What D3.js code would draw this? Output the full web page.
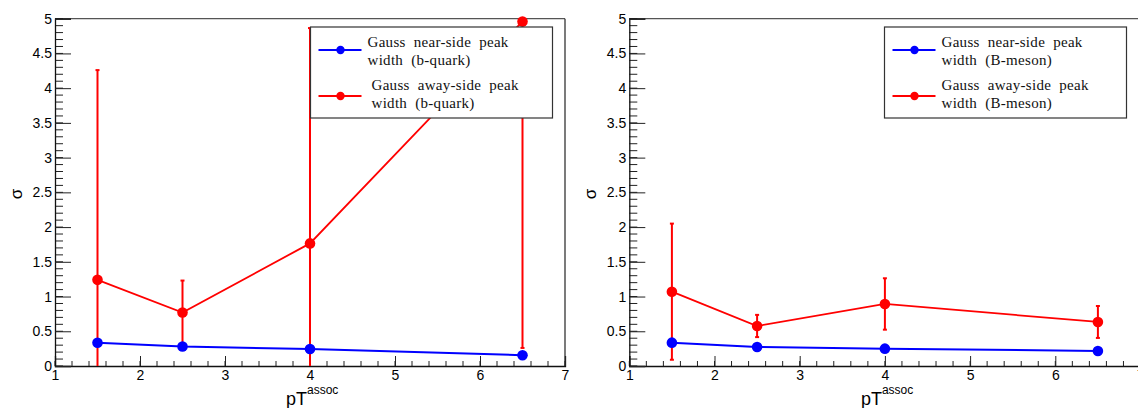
<!DOCTYPE html>
<html>
<head>
<meta charset="utf-8">
<script src="https://cdn.jsdelivr.net/npm/d3@7"></script>
<style>
  body { margin: 0; background: #fff; }
  svg { display: block; }
  .tick text { font-family: "Liberation Sans", Arial, sans-serif; font-size: 14px; fill: #000; }
  .leg text { font-family: "Liberation Serif", "DejaVu Serif", serif; font-size: 15px; fill: #111; word-spacing: 4px; letter-spacing: 0.3px; }
</style>
</head>
<body>
<div id="chart"></div>
<script>
// pT assoc bin centres
var pt = [1.5, 2.5, 4, 6.5];

// b-quark panel
var bqNear = [0.335, 0.28, 0.245, 0.155];
var bqAway = [1.24, 0.77, 1.765, 4.96];
var bqAwayErr = [3.02, 0.46, 3.1, 4.70];

// B-meson panel
var bmNear = [0.336, 0.274, 0.25, 0.216];
var bmAway = [1.07, 0.576, 0.893, 0.634];
var bmAwayErr = [0.98, 0.16, 0.37, 0.23];

var xTicks = [1, 2, 3, 4, 5, 6, 7];
var yTicks = [0, 0.5, 1, 1.5, 2, 2.5, 3, 3.5, 4, 4.5, 5];

var W = 1138, H = 408;

var svg = d3.select("#chart")
    .append("svg")
        .attr("width", W)
        .attr("height", H);

var panels = [
    {x0: 55, x1: 565, near: bqNear, away: bqAway, awayErr: bqAwayErr, tag: "(b-quark)",
     leg: {x: 310.5, y: 27, w: 242, h: 91, dx2: 4}, rightFrame: true},
    {x0: 629.3, x1: 1140.5, near: bmNear, away: bmAway, awayErr: bmAwayErr, tag: "(B-meson)",
     leg: {x: 884.5, y: 27, w: 242, h: 91, dx2: 0}, rightFrame: false}
];

panels.forEach(function(p) {
    var x = d3.scaleLinear().domain([1, 7]).range([p.x0, p.x1]);
    var y = d3.scaleLinear().domain([0, 5]).range([366, 18.7]);
    var g = svg.append("g");

    // frame
    g.append("line").attr("x1", p.x0).attr("x2", p.x1).attr("y1", y(5)).attr("y2", y(5))
        .attr("stroke", "#555").attr("stroke-width", 1.2);
    if (p.rightFrame) {
        g.append("line").attr("x1", p.x1).attr("x2", p.x1).attr("y1", y(5)).attr("y2", y(0))
            .attr("stroke", "#222").attr("stroke-width", 1.2);
    }

    // x axis: major 1, minor 0.2
    var xMinor = d3.range(1, 7.001, 0.2).map(function(v) { return +v.toFixed(2); });
    g.selectAll(".xminor").data(xMinor).enter().append("line")
        .attr("x1", function(d) { return x(d); }).attr("x2", function(d) { return x(d); })
        .attr("y1", y(0)).attr("y2", y(0) - 5)
        .attr("stroke", "#222").attr("stroke-width", 1);
    var xAxis = d3.axisBottom(x).tickValues(xTicks).tickSize(-10).tickPadding(4)
        .tickFormat(d3.format("d"));
    var gx = g.append("g").attr("transform", "translate(0," + y(0) + ")").call(xAxis);
    gx.select(".domain").attr("stroke", "#111").attr("stroke-width", 1.3);
    gx.selectAll(".tick line").attr("stroke", "#222");

    // y axis: major 0.5, minor 0.1
    var yMinor = d3.range(0, 5.001, 0.1).map(function(v) { return +v.toFixed(2); });
    g.selectAll(".yminor").data(yMinor).enter().append("line")
        .attr("x1", p.x0).attr("x2", p.x0 + 8)
        .attr("y1", function(d) { return y(d); }).attr("y2", function(d) { return y(d); })
        .attr("stroke", "#222").attr("stroke-width", 1);
    var yAxis = d3.axisLeft(y).tickValues(yTicks).tickSize(-16).tickPadding(3)
        .tickFormat(function(d) { return d3.format("")(d); });
    var gy = g.append("g").attr("transform", "translate(" + p.x0 + ",0)").call(yAxis);
    gy.select(".domain").attr("stroke", "#111").attr("stroke-width", 1.3);
    gy.selectAll(".tick line").attr("stroke", "#222");

    // axis titles
    var xt = g.append("text")
        .attr("x", (p.x0 + p.x1) / 2 - 24).attr("y", 405)
        .attr("font-family", "Liberation Sans, Arial, sans-serif")
        .attr("font-size", 18);
    xt.append("tspan").text("pT");
    xt.append("tspan").attr("font-size", 12).attr("dy", -11).text("assoc");

    g.append("text")
        .attr("transform", "translate(" + (p.x0 - 33) + ",194) rotate(-90)")
        .attr("text-anchor", "middle")
        .attr("font-family", "Liberation Sans, Arial, sans-serif")
        .attr("font-size", 17)
        .text("σ");

    // lines
    var line = d3.line()
        .x(function(d, i) { return x(pt[i]); })
        .y(function(d) { return y(d); });

    g.append("path").datum(p.near).attr("d", line)
        .attr("fill", "none").attr("stroke", "#0000ff").attr("stroke-width", 2);
    g.append("path").datum(p.away).attr("d", line)
        .attr("fill", "none").attr("stroke", "#ff0000").attr("stroke-width", 1.8);

    // error bars on away-side (clipped to frame)
    var ebData = p.away.map(function(d, i) {
        return {x: pt[i], lo: d - p.awayErr[i], hi: d + p.awayErr[i]};
    });
    var eb = g.selectAll(".eb").data(ebData).enter().append("g");
    eb.append("line")
        .attr("x1", function(d) { return x(d.x); })
        .attr("x2", function(d) { return x(d.x); })
        .attr("y1", function(d) { return y(Math.min(5, d.hi)); })
        .attr("y2", function(d) { return y(Math.max(0, d.lo)); })
        .attr("stroke", "#ff0000").attr("stroke-width", 2);
    eb.filter(function(d) { return d.hi < 5; }).append("line")
        .attr("x1", function(d) { return x(d.x) - 2; })
        .attr("x2", function(d) { return x(d.x) + 2; })
        .attr("y1", function(d) { return y(d.hi); })
        .attr("y2", function(d) { return y(d.hi); })
        .attr("stroke", "#ff0000").attr("stroke-width", 2);
    eb.filter(function(d) { return d.lo > 0; }).append("line")
        .attr("x1", function(d) { return x(d.x) - 2; })
        .attr("x2", function(d) { return x(d.x) + 2; })
        .attr("y1", function(d) { return y(d.lo); })
        .attr("y2", function(d) { return y(d.lo); })
        .attr("stroke", "#ff0000").attr("stroke-width", 2);

    // markers
    g.selectAll(".mn").data(p.near).enter().append("circle")
        .attr("cx", function(d, i) { return x(pt[i]); })
        .attr("cy", function(d) { return y(d); })
        .attr("r", 5.3).attr("fill", "#0000ff");
    g.selectAll(".ma").data(p.away).enter().append("circle")
        .attr("cx", function(d, i) { return x(pt[i]); })
        .attr("cy", function(d) { return y(d); })
        .attr("r", 5.3).attr("fill", "#ff0000");

    // legend
    var L = p.leg;
    var lg = g.append("g").attr("class", "leg");
    lg.append("rect").attr("x", L.x).attr("y", L.y).attr("width", L.w).attr("height", L.h)
        .attr("fill", "#fff").attr("stroke", "#333").attr("stroke-width", 1.2);
    var entries = [
        {c: "#0000ff", t1: "Gauss near-side peak", t2: "width " + p.tag, ly: 50, ty: 47, dx: 0},
        {c: "#ff0000", t1: "Gauss away-side peak", t2: "width " + p.tag, ly: 96, ty: 90, dx: L.dx2}
    ];
    entries.forEach(function(e) {
        lg.append("line").attr("x1", L.x + 8).attr("x2", L.x + 51)
            .attr("y1", e.ly).attr("y2", e.ly)
            .attr("stroke", e.c).attr("stroke-width", 2);
        lg.append("circle").attr("cx", L.x + 30).attr("cy", e.ly).attr("r", 4.2).attr("fill", e.c);
        lg.append("text").attr("x", L.x + 57 + e.dx).attr("y", e.ty).text(e.t1);
        lg.append("text").attr("x", L.x + 57 + e.dx).attr("y", e.ty + 17.5).text(e.t2);
    });
});
</script>
</body>
</html>
